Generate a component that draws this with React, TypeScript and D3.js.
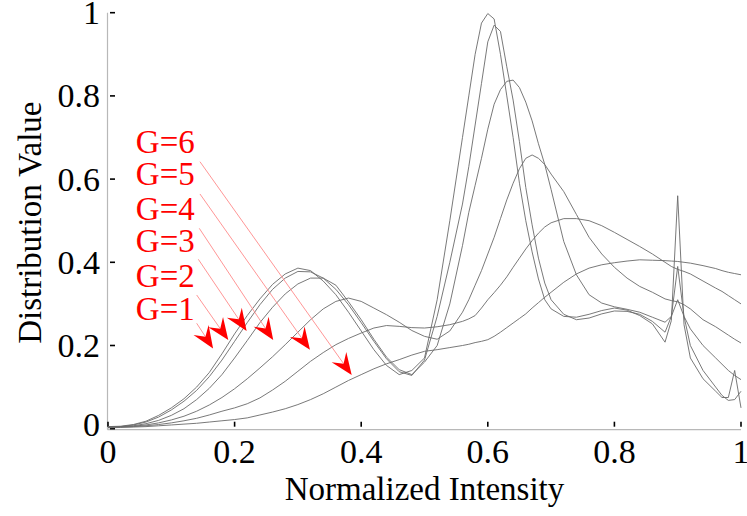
import React from "react";
import * as d3 from "d3";

// shared x grid (normalized intensity)
const xs = [
  0, 0.02, 0.04, 0.06, 0.08, 0.1, 0.12, 0.14, 0.16, 0.18, 0.2, 0.22, 0.24, 0.26, 0.28, 0.3, 0.32, 0.34, 0.36, 0.38,
  0.4, 0.42, 0.44, 0.46, 0.48, 0.5, 0.52, 0.54, 0.56,
  0.57, 0.58, 0.59, 0.6, 0.61, 0.62, 0.63, 0.64, 0.65, 0.66, 0.67, 0.68, 0.69, 0.7,
  0.72, 0.74, 0.76, 0.78, 0.8, 0.82, 0.84, 0.86, 0.88,
  0.89, 0.9, 0.91, 0.92, 0.94, 0.96, 0.97, 0.98, 0.99, 1,
];

const g1 = [
  0.005, 0.006, 0.01, 0.018, 0.032, 0.05, 0.072, 0.1, 0.135, 0.18, 0.228, 0.272, 0.312, 0.347, 0.372, 0.386, 0.38, 0.355, 0.322, 0.28,
  0.235, 0.19, 0.152, 0.13, 0.14, 0.17, 0.31, 0.5, 0.7,
  0.8, 0.9, 0.975, 0.998, 0.985, 0.9, 0.8, 0.7, 0.59, 0.5, 0.425, 0.36, 0.31, 0.288,
  0.27, 0.268, 0.275, 0.284, 0.29, 0.285, 0.272, 0.252, 0.208,
  0.26, 0.56, 0.25, 0.17, 0.12, 0.09, 0.075, 0.075, 0.14, 0.05,
];
const g2 = [
  0.004, 0.005, 0.009, 0.016, 0.028, 0.045, 0.066, 0.092, 0.125, 0.165, 0.21, 0.255, 0.298, 0.335, 0.362, 0.378, 0.377, 0.362, 0.335, 0.298,
  0.255, 0.21, 0.168, 0.137, 0.128, 0.165, 0.27, 0.4, 0.54,
  0.63, 0.73, 0.83, 0.93, 0.97, 0.955, 0.87, 0.79, 0.69, 0.58, 0.49, 0.41, 0.35, 0.31,
  0.275, 0.262, 0.266, 0.276, 0.283, 0.282, 0.275, 0.258, 0.232,
  0.27, 0.39, 0.27, 0.2, 0.14, 0.1, 0.08, 0.068, 0.07, 0.09,
];
const g3 = [
  0.004, 0.005, 0.007, 0.012, 0.02, 0.032, 0.048, 0.07, 0.097, 0.13, 0.17, 0.212, 0.255, 0.292, 0.324, 0.348, 0.362, 0.362, 0.345, 0.305,
  0.262, 0.215, 0.172, 0.142, 0.13, 0.16, 0.2, 0.3, 0.44,
  0.52, 0.585, 0.65, 0.72, 0.78, 0.815, 0.835, 0.838, 0.82, 0.785, 0.74, 0.685, 0.635, 0.575,
  0.45, 0.37, 0.322, 0.302, 0.293, 0.287, 0.28, 0.268, 0.256,
  0.27, 0.31, 0.27, 0.24, 0.2, 0.17, 0.155, 0.14, 0.128, 0.118,
];
const g4 = [
  0.004, 0.005, 0.006, 0.009, 0.014, 0.021, 0.03, 0.042, 0.057, 0.075, 0.096, 0.12, 0.146, 0.173, 0.202, 0.232, 0.262, 0.288, 0.306, 0.314,
  0.306, 0.29, 0.274, 0.256, 0.236, 0.222, 0.215, 0.235, 0.28,
  0.31, 0.345, 0.38, 0.42, 0.46, 0.505, 0.55, 0.59, 0.625, 0.65, 0.658, 0.65, 0.635, 0.612,
  0.57, 0.515, 0.46, 0.42, 0.388, 0.362, 0.342, 0.328, 0.312,
  0.308, 0.305, 0.298, 0.288, 0.262, 0.245, 0.235, 0.225, 0.215, 0.206,
];
const g5 = [
  0.003, 0.004, 0.005, 0.007, 0.01, 0.014, 0.019, 0.025, 0.033, 0.042, 0.05, 0.06, 0.074, 0.093, 0.114, 0.138, 0.162, 0.183, 0.202, 0.217,
  0.23, 0.242, 0.248, 0.246, 0.243, 0.242, 0.245, 0.25, 0.258,
  0.264, 0.272, 0.29, 0.31, 0.327, 0.345, 0.365, 0.388, 0.41, 0.432, 0.452, 0.47, 0.485, 0.495,
  0.505, 0.505, 0.5, 0.488, 0.472, 0.455, 0.438, 0.42, 0.4,
  0.39, 0.383, 0.378, 0.372, 0.355, 0.338, 0.33, 0.32, 0.31, 0.3,
];
const g6 = [
  0.002, 0.003, 0.004, 0.005, 0.007, 0.009, 0.011, 0.013, 0.016, 0.019, 0.022, 0.026, 0.033, 0.04, 0.048, 0.058, 0.07, 0.084, 0.1, 0.116,
  0.13, 0.144, 0.156, 0.166, 0.177, 0.186, 0.19, 0.195, 0.2,
  0.203, 0.207, 0.21, 0.214, 0.222, 0.232, 0.243, 0.254, 0.265, 0.276, 0.29, 0.303, 0.316, 0.328,
  0.352, 0.372, 0.386, 0.394, 0.399, 0.403, 0.406, 0.405, 0.404,
  0.403, 0.402, 0.4, 0.398, 0.392, 0.385, 0.38, 0.376, 0.373, 0.37,
];

// annotation labels (top to bottom) and their arrows, in data units
const labels = ["G=6", "G=5", "G=4", "G=3", "G=2", "G=1"];
const labelX = 0.044;
const labelY = [0.663, 0.586, 0.502, 0.425, 0.341, 0.262];
const arrowFromX = [0.1453, 0.1453, 0.1442, 0.1427, 0.1401, 0.1401];
const arrowFromY = [0.6418, 0.5642, 0.4817, 0.4072, 0.3214, 0.2534];
const arrowToX = [0.385, 0.319, 0.261, 0.219, 0.19, 0.166];
const arrowToY = [0.129, 0.19, 0.213, 0.235, 0.213, 0.193];

const ticks = [0, 0.2, 0.4, 0.6, 0.8, 1];

const W = 747;
const H = 516;
const FONT = "'Liberation Serif', 'Times New Roman', serif";

export default function App() {
  const x = d3.scaleLinear().domain([0, 1]).range([108, 741]);
  const y = d3.scaleLinear().domain([0, 1]).range([428.7, 12.7]);
  const fmt = d3.format("~g");
  const series = [g1, g2, g3, g4, g5, g6];

  const line = d3
    .line<number>()
    .x((_, i) => x(xs[i]))
    .y((d) => y(d));

  const arrows = labels.map((_, i) => {
    const x0 = x(arrowFromX[i]);
    const y0 = y(arrowFromY[i]);
    const x1 = x(arrowToX[i]);
    const y1 = y(arrowToY[i]);
    const len = Math.hypot(x1 - x0, y1 - y0);
    const ux = (x1 - x0) / len;
    const uy = (y1 - y0) / len;
    const nx = -uy;
    const ny = ux;
    const L = 22, Wd = 9, notch = 14;
    const head = [
      [x1, y1],
      [x1 - L * ux + Wd * nx, y1 - L * uy + Wd * ny],
      [x1 - notch * ux, y1 - notch * uy],
      [x1 - L * ux - Wd * nx, y1 - L * uy - Wd * ny],
    ];
    return { x0, y0, xe: x1 - notch * ux, ye: y1 - notch * uy, head };
  });

  return (
    <svg
      width={W}
      height={H}
      style={{ position: "absolute", left: 0, top: 0, background: "#fff" }}
      fontFamily={FONT}
    >
      {/* axes */}
      <line x1={x(0) - 0.5} x2={x(0) - 0.5} y1={y(1)} y2={y(0) + 1} stroke="#b8b8b8" strokeWidth={1.2} />
      <line x1={x(0) - 0.5} x2={x(1)} y1={y(0) + 1} y2={y(0) + 1} stroke="#b8b8b8" strokeWidth={1.2} />
      {ticks.map((t) => (
        <g key={"yt" + t}>
          <line x1={x(0) + 2} x2={x(0) + 7} y1={y(t)} y2={y(t)} stroke="#000" strokeWidth={1.6} />
          <text x={100} y={y(t) + (t === 0 ? -4 : 0)} dy="0.34em" textAnchor="end" fontSize={34} fill="#000">
            {fmt(t)}
          </text>
        </g>
      ))}
      {ticks.map((t) => (
        <g key={"xt" + t}>
          <line x1={x(t)} x2={x(t)} y1={y(0) - 7} y2={y(0) - 2} stroke="#000" strokeWidth={1.6} />
          <text x={x(t)} y={463} textAnchor="middle" fontSize={34} fill="#000">
            {fmt(t)}
          </text>
        </g>
      ))}
      <text x={(x(0) + x(1)) / 2} y={500} textAnchor="middle" fontSize={33} fill="#000">
        Normalized Intensity
      </text>
      <text
        transform={`translate(41, ${(y(0) + y(1)) / 2 + 2}) rotate(-90)`}
        textAnchor="middle"
        fontSize={33}
        fill="#000"
      >
        Distribution Value
      </text>

      {/* curves */}
      {series.map((s, i) => (
        <path key={"s" + i} d={line(s) || ""} fill="none" stroke="#6a6a6a" strokeWidth={0.9} />
      ))}

      {/* annotations */}
      {arrows.map((a, i) => (
        <g key={"a" + i}>
          <line x1={a.x0} y1={a.y0} x2={a.xe} y2={a.ye} stroke="#ff8a8a" strokeWidth={0.9} />
          <polygon points={a.head.map((p) => p.join(",")).join(" ")} fill="#ff0000" />
        </g>
      ))}
      {labels.map((l, i) => (
        <text key={l} x={x(labelX)} y={y(labelY[i])} fontSize={33} fill="#ff0000">
          {l}
        </text>
      ))}
    </svg>
  );
}
